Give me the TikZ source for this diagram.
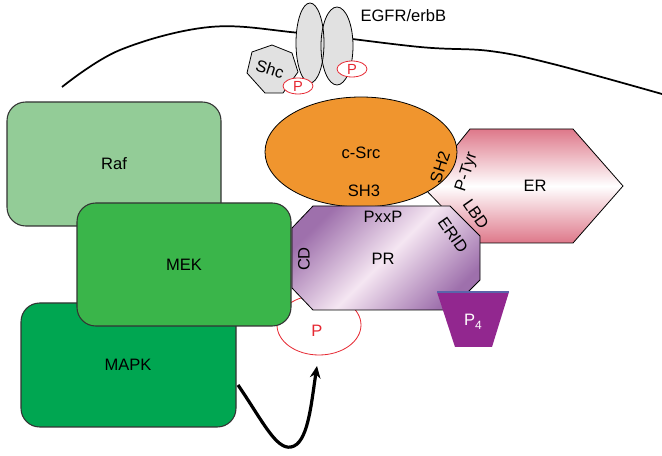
\documentclass[tikz,border=0pt]{standalone}
\usepackage{fontspec}
\setmainfont{Liberation Sans}
\usetikzlibrary{arrows.meta,shapes.geometric}
\definecolor{rafgreen}{RGB}{147,204,151}
\definecolor{mekgreen}{RGB}{58,181,74}
\definecolor{mapkgreen}{RGB}{0,166,81}
\definecolor{srcorange}{RGB}{240,149,46}
\definecolor{erpink}{RGB}{222,120,138}
\definecolor{prpurple}{RGB}{158,112,172}
\definecolor{prlight}{RGB}{245,230,242}
\definecolor{pfour}{RGB}{146,39,143}
\definecolor{pred}{RGB}{230,40,50}
\definecolor{recgray}{RGB}{225,225,225}
\tikzset{
  lbl/.style={font=\fontsize{12.4}{14}\selectfont, inner sep=1pt},
  kinase/.style={draw=black!80, line width=0.8pt, rounded corners=14pt},
  pbub/.style={draw=pred, fill=white, line width=0.6pt, ellipse, inner sep=0pt, minimum width=30pt*0.75, minimum height=16pt*0.75, font=\fontsize{11}{12}\selectfont, text=pred},
}
\begin{document}
\begin{tikzpicture}[x=0.75pt,y=-0.75pt]
\useasboundingbox (0,0) rectangle (662,456);
% membrane
\draw[line width=1.3pt] plot[smooth, tension=0.6] coordinates {(62,87) (120,50) (210,27) (300,33) (420,47) (490,51) (553,64) (662,94)};
% Shc
\draw[fill=recgray, line width=0.6pt] (272,45) -- (292,53) -- (298,72) -- (283,93) -- (265,93) -- (247,73) -- (252,52) -- cycle;
\node[lbl, rotate=-18] (shc) at (270,69) {Shc};
% receptor
\path[fill=recgray] (310,43) ellipse [x radius=14, y radius=40];
\path[fill=recgray] (337,46) ellipse [x radius=16, y radius=39];
\draw[line width=0.6pt] (310,43) ellipse [x radius=14, y radius=40];
\draw[line width=0.6pt] (337,46) ellipse [x radius=16, y radius=39];
\node[lbl, anchor=west] (egfr) at (359,16) {EGFR/erbB};
\node[pbub] (p1) at (298,86) {P};
\node[pbub] (p2) at (352,69) {P};
% Raf and MAPK
\draw[kinase, fill=rafgreen] (7,102) rectangle (221,226);
\node[lbl] (raf) at (114,164) {Raf};
\draw[kinase, fill=mapkgreen] (21,303) rectangle (236,427);
\node[lbl] (mapk) at (128,365) {MAPK};
% red P
\draw[pred, fill=white, line width=0.6pt] (319,325) ellipse [x radius=42, y radius=30];
\node[font=\fontsize{12.4}{14}\selectfont, text=pred] (pbig) at (317,331) {P};
% MEK
\draw[kinase, fill=mekgreen] (77,203) rectangle (291,326);
\node[lbl] (mek) at (184,265) {MEK};
% ER
\path[top color=erpink, bottom color=erpink, middle color=white] (470,129) -- (573,129) -- (623,186) -- (573,243) -- (477,243) -- (423,187) -- cycle;
\draw[line width=0.6pt] (470,129) -- (573,129) -- (623,186) -- (573,243) -- (477,243) -- (423,187) -- cycle;
\node[lbl] (er) at (535,186) {ER};
\node[lbl, rotate=72] (ptyr) at (467,172) {P-Tyr};
\node[lbl, rotate=-55] (lbd) at (476,214) {LBD};
% c-Src
\draw[fill=srcorange, line width=0.6pt] (361,152) ellipse [x radius=96, y radius=55];
\node[lbl] (src) at (361,153) {c-Src};
\node[lbl] (sh3) at (364,191) {SH3};
\node[lbl, rotate=72] (sh2) at (440,167) {SH2};
% PR
\path[shading=axis, top color=prpurple, bottom color=prpurple, middle color=prlight, shading angle=45] (313,206) -- (450,206) -- (480,236) -- (480,280) -- (450,310) -- (313,310) -- (292,288) -- (292,228) -- cycle;
\draw[line width=0.6pt] (313,206) -- (450,206) -- (480,236) -- (480,280) -- (450,310) -- (313,310) -- (292,288) -- (292,228) -- cycle;
\node[lbl] (pxxp) at (383,217) {PxxP};
\node[lbl] (pr) at (383,259) {PR};
\node[lbl, rotate=90] (cd) at (304,259) {CD};
\node[lbl, rotate=-55] (erid) at (453,235) {ERID};
% P4
\fill[pfour] (437,292) -- (509,292) -- (492,347) -- (455,347) -- cycle;
\draw[draw={rgb,255:red,90;green,100;blue,170}, line width=0.8pt] (437,292) -- (509,292);
\node[text=white, font=\fontsize{12.4}{14}\selectfont] (p4) at (473,322) {P\raisebox{-3pt}{\fontsize{9}{9}\selectfont 4}};
% arrow
\coordinate (a0) at (238,385);
\draw[line width=2.4pt, -{Stealth[length=9pt,width=8pt]}] (a0) .. controls (262,420) and (276,450) .. (291,447) .. controls (308,444) and (311,405) .. (pbig.south |- 0,366);
\end{tikzpicture}
\end{document}
